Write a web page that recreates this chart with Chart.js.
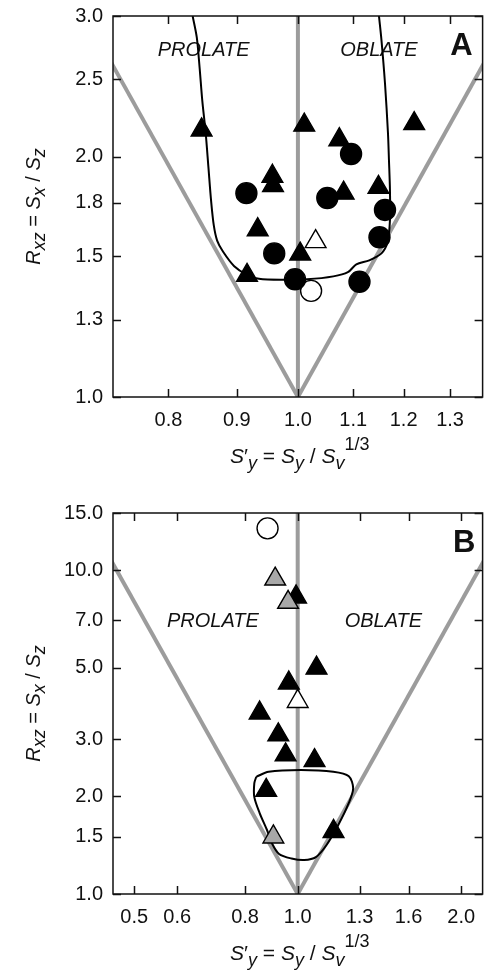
<!DOCTYPE html>
<html>
<head>
<meta charset="utf-8">
<script src="https://cdn.jsdelivr.net/npm/chart.js@4.4.1/dist/chart.umd.min.js"></script>
<style>
  body { margin: 0; background: #fff; }
  #wrap { position: relative; width: 496px; height: 975px; }
  canvas { position: absolute; left: 0; }
</style>
</head>
<body>
<div id="wrap">
  <canvas id="chartA" width="496" height="487" style="top:0"></canvas>
  <canvas id="chartB" width="496" height="487" style="top:488px"></canvas>
</div>
<script>
// ---- panel A data ----
var aTickX = [0.8, 0.9, 1.0, 1.1, 1.2, 1.3];
var aTickY = [1.0, 1.25, 1.5, 1.75, 2.0, 2.5, 3.0];
var aTickYLabels = ['1.0', '1.3', '1.5', '1.8', '2.0', '2.5', '3.0'];

var aTriX = [0.847, 1.011, 1.074, 1.222, 0.957, 0.958, 1.082, 1.149, 0.933, 1.004, 0.916];
var aTriY = [2.16, 2.19, 2.10, 2.20, 1.89, 1.84, 1.80, 1.83, 1.62, 1.51, 1.42];
var aCircX = [1.096, 0.915, 1.052, 1.162, 0.960, 1.151, 0.995, 1.112];
var aCircY = [2.015, 1.80, 1.775, 1.715, 1.513, 1.585, 1.404, 1.394];
var aOpenTriX = [1.031];
var aOpenTriY = [1.565];
var aOpenCircX = [1.023];
var aOpenCircY = [1.358];

var aCurveX = [0.834, 0.840, 0.844, 0.848, 0.853, 0.857, 0.861, 0.865, 0.870, 0.879, 0.896, 0.915, 0.935,
               0.978, 1.016, 1.063, 1.090, 1.106, 1.131, 1.155, 1.167, 1.172, 1.172, 1.170, 1.168, 1.162, 1.155, 1.150];
var aCurveY = [3.0, 2.82, 2.59, 2.35, 2.14, 1.94, 1.76, 1.64, 1.57, 1.52, 1.458, 1.424, 1.406,
               1.402, 1.404, 1.416, 1.433, 1.466, 1.483, 1.513, 1.562, 1.664, 1.815, 1.979, 2.139, 2.471, 2.797, 3.0];

// prolate / oblate boundaries, x = R^(-1/3) and R^(1/3)
var aProlateX = [1.0, 0.693];
var aOblateX = [1.0, 1.442];
var aBoundY = [1.0, 3.0];

// ---- panel B data ----
var bTickX = [0.5, 0.6, 0.8, 1.0, 1.3, 1.6, 2.0];
var bTickY = [1.0, 1.5, 2.0, 3.0, 5.0, 7.0, 10.0, 15.0];

var bTriX = [0.993, 1.083, 0.963, 0.851, 0.921, 0.950, 1.074, 0.875, 1.164];
var bTriY = [8.26, 4.98, 4.48, 3.62, 3.10, 2.69, 2.58, 2.09, 1.56];
var bGrayTriX = [0.909, 0.960, 0.902];
var bGrayTriY = [9.38, 7.95, 1.50];
var bOpenTriX = [1.000];
var bOpenTriY = [3.93];
var bOpenCircX = [0.880];
var bOpenCircY = [13.45];

var bCurveX = [0.839, 0.884, 1.014, 1.163, 1.242, 1.265, 1.242, 1.187, 1.130, 1.080, 1.028, 0.974, 0.924,
               0.896, 0.878, 0.851, 0.832, 0.832, 0.839];
var bCurveY = [2.30, 2.385, 2.414, 2.385, 2.31, 2.12, 1.91, 1.63, 1.417, 1.30, 1.273, 1.287, 1.329,
               1.437, 1.576, 1.778, 1.99, 2.20, 2.30];

var bProlateX = [1.0, 0.405];
var bOblateX = [1.0, 2.466];
var bBoundY = [1.0, 15.0];

var FONT = "'Liberation Sans', Arial, Helvetica, sans-serif";
var GRAY = '#9c9c9c';
var PLOT_RIGHT = 494;

function pts(xs, ys) {
    return xs.map(function (x, i) { return { x: x, y: ys[i] }; });
}

// text pieces: [text, style]  i = italic, n = normal, is = italic subscript, p = superscript
var yTitle = [['R', 'i'], ['xz', 'is'], [' = ', 'n'], ['S', 'i'], ['x', 'is'], [' / ', 'n'], ['S', 'i'], ['z', 'is']];
var xTitle = [['S', 'i'], ['\u2032', 'n'], ['y', 'is'], [' = ', 'n'], ['S', 'i'], ['y', 'is'], [' / ', 'n'],
              ['S', 'i'], ['v', 'is'], ['1/3', 'p']];

function partFont(st, size) {
    var small = (st === 'is' || st === 'p');
    var s = small ? Math.round(size * 0.88) : size;
    return (st.charAt(0) === 'i' ? 'italic ' : '') + s + 'px ' + FONT;
}

function partDy(st, size) {
    if (st === 'is') return size * 0.27;
    if (st === 'p') return -size * 0.6;
    return 0;
}

function drawRich(ctx, parts, x, y, size) {
    var total = 0;
    parts.forEach(function (p) {
        ctx.font = partFont(p[1], size);
        total += ctx.measureText(p[0]).width;
    });
    var cx = x - total / 2;
    ctx.textAlign = 'left';
    ctx.textBaseline = 'alphabetic';
    parts.forEach(function (p) {
        ctx.font = partFont(p[1], size);
        ctx.fillText(p[0], cx, y + partDy(p[1], size));
        cx += ctx.measureText(p[0]).width;
    });
}

var decor = {
    id: 'decor',
    beforeDatasetsDraw: function (chart, args, o) {
        var ctx = chart.ctx, xs = chart.scales.x, ys = chart.scales.y;
        ctx.save();
        ctx.fillStyle = '#111';
        ctx.textAlign = 'center';
        ctx.textBaseline = 'middle';
        ctx.font = 'italic 20px ' + FONT;
        o.words.forEach(function (w) {
            ctx.fillText(w[0], xs.getPixelForValue(w[1]), ys.getPixelForValue(w[2]));
        });
        ctx.font = 'bold 31px ' + FONT;
        ctx.fillText(o.letter[0], xs.getPixelForValue(o.letter[1]), ys.getPixelForValue(o.letter[2]));
        ctx.restore();
    },
    afterDatasetsDraw: function (chart) {
        var ctx = chart.ctx, xs = chart.scales.x, ys = chart.scales.y, a = chart.chartArea;
        var L = 8;
        ctx.save();
        ctx.strokeStyle = '#111';
        ctx.lineWidth = 1.5;
        ctx.beginPath();
        xs.ticks.forEach(function (t) {
            var px = Math.round(xs.getPixelForValue(t.value)) + 0.5;
            ctx.moveTo(px, a.bottom); ctx.lineTo(px, a.bottom - L);
            ctx.moveTo(px, a.top); ctx.lineTo(px, a.top + L);
        });
        ys.ticks.forEach(function (t) {
            var py = Math.round(ys.getPixelForValue(t.value)) + 0.5;
            ctx.moveTo(a.left, py); ctx.lineTo(a.left + L, py);
            ctx.moveTo(a.right, py); ctx.lineTo(a.right - L, py);
        });
        ctx.stroke();
        ctx.strokeRect(a.left, a.top, a.right - a.left, a.bottom - a.top);

        ctx.fillStyle = '#111';
        drawRich(ctx, xTitle, (a.left + a.right) / 2 + 2, a.bottom + 66, 21);
        ctx.translate(40, (a.top + a.bottom) / 2);
        ctx.rotate(-Math.PI / 2);
        drawRich(ctx, yTitle, 0, 0, 20);
        ctx.restore();
    }
};

function makePanel(id, cfg) {
    var tickFont = { family: FONT, size: 20 };
    var pad = { top: cfg.top, right: 2, left: 0, bottom: 0 };
    var chart = new Chart(id, {
        type: 'scatter',
        data: { datasets: cfg.datasets },
        options: {
            responsive: false,
            animation: false,
            devicePixelRatio: 1,
            events: [],
            layout: { padding: pad },
            plugins: {
                legend: { display: false },
                tooltip: { enabled: false },
                decor: { words: cfg.words, letter: cfg.letter }
            },
            scales: {
                x: {
                    type: 'logarithmic',
                    min: cfg.xMin, max: cfg.xMax,
                    afterBuildTicks: function (s) { s.ticks = cfg.tickX.map(function (v) { return { value: v }; }); },
                    afterFit: function (s) {
                        s.height = cfg.xHeight;
                        s.paddingLeft = 0;
                        s.paddingRight = 0;
                    },
                    grid: { display: false, drawTicks: false },
                    border: { display: false },
                    ticks: {
                        autoSkip: false, maxRotation: 0, padding: 11, color: '#111', font: tickFont,
                        callback: function (v) { return Number(v).toFixed(1); }
                    }
                },
                y: {
                    type: 'logarithmic',
                    min: cfg.yMin, max: cfg.yMax,
                    afterBuildTicks: function (s) { s.ticks = cfg.tickY.map(function (v) { return { value: v }; }); },
                    afterFit: function (s) {
                        s.width = 113;
                        s.paddingTop = 0;
                        s.paddingBottom = 0;
                    },
                    grid: { display: false, drawTicks: false },
                    border: { display: false },
                    ticks: {
                        autoSkip: false, padding: 10, color: '#111', font: tickFont,
                        callback: function (v) {
                            var i = cfg.tickY.indexOf(Number(v));
                            return cfg.tickYLabels ? cfg.tickYLabels[i] : Number(v).toFixed(1);
                        }
                    }
                }
            }
        },
        plugins: [decor]
    });
    // label overhang shrinks the plot on the right; pull it back to the frame edge
    for (var k = 0; k < 4; k++) {
        var d = chart.chartArea.right - PLOT_RIGHT;
        if (Math.abs(d) < 0.5) break;
        pad.right += d;
        chart.config.options.layout.padding = { top: pad.top, right: pad.right, left: pad.left, bottom: pad.bottom };
        chart.update('none');
    }
    return chart;
}

function marker(data, style, fill, radius, order) {
    return {
        data: data, showLine: false, pointStyle: style, pointRadius: radius,
        pointBackgroundColor: fill, pointBorderColor: '#000', pointBorderWidth: 1.4, order: order
    };
}

function line(data, color, width, tension, order) {
    return {
        data: data, showLine: true, pointRadius: 0, borderColor: color, borderWidth: width,
        tension: tension, order: order
    };
}

makePanel('chartA', {
    top: 16, xHeight: 90,
    xMin: 0.727, xMax: 1.375, yMin: 1.0, yMax: 3.0,
    tickX: aTickX, tickY: aTickY, tickYLabels: aTickYLabels,
    words: [['PROLATE', 0.85, 2.72], ['OBLATE', 1.15, 2.72]],
    letter: ['A', 1.326, 2.75],
    datasets: [
        marker(pts(aCircX, aCircY), 'circle', '#000', 10.5, 1),
        marker(pts(aTriX, aTriY), 'triangle', '#000', 12, 2),
        marker(pts(aOpenTriX, aOpenTriY), 'triangle', '#fff', 12, 3),
        marker(pts(aOpenCircX, aOpenCircY), 'circle', '#fff', 10.5, 4),
        line(pts(aCurveX, aCurveY), '#000', 2, 0.3, 5),
        line(pts(aProlateX, aBoundY), GRAY, 4, 0, 6),
        line(pts(aOblateX, aBoundY), GRAY, 4, 0, 6),
        line(pts([1.0, 1.0], aBoundY), GRAY, 4, 0, 6)
    ]
});

makePanel('chartB', {
    top: 25, xHeight: 81,
    xMin: 0.457, xMax: 2.19, yMin: 1.0, yMax: 15.0,
    tickX: bTickX, tickY: bTickY,
    words: [['PROLATE', 0.698, 6.93], ['OBLATE', 1.438, 6.93]],
    letter: ['B', 2.025, 12.1],
    datasets: [
        marker(pts(bGrayTriX, bGrayTriY), 'triangle', '#a8a8a8', 12, 1),
        marker(pts(bOpenTriX, bOpenTriY), 'triangle', '#fff', 12, 2),
        marker(pts(bOpenCircX, bOpenCircY), 'circle', '#fff', 10.5, 3),
        marker(pts(bTriX, bTriY), 'triangle', '#000', 12, 4),
        line(pts(bCurveX, bCurveY), '#000', 2, 0.3, 5),
        line(pts(bProlateX, bBoundY), GRAY, 4, 0, 6),
        line(pts(bOblateX, bBoundY), GRAY, 4, 0, 6),
        line(pts([1.0, 1.0], bBoundY), GRAY, 4, 0, 6)
    ]
});
</script>
</body>
</html>
